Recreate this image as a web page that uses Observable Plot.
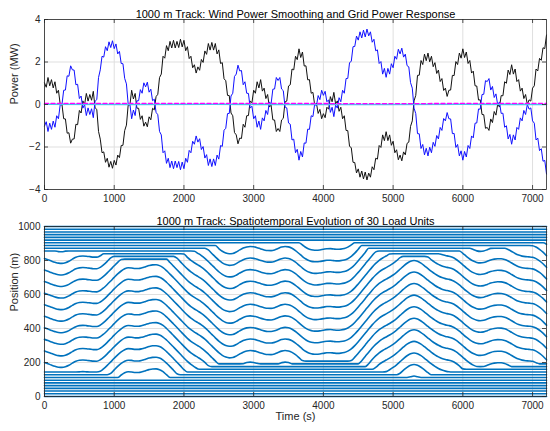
<!DOCTYPE html>
<html><head><meta charset="utf-8">
<script src="https://cdn.jsdelivr.net/npm/d3@7"></script>
<script src="https://cdn.jsdelivr.net/npm/@observablehq/plot@0.6"></script>
<style>
body{margin:0;background:#fff;}
#chart{width:550px;height:431px;overflow:hidden;}
#chart svg{display:block;}
</style></head><body><div id="chart"></div>
<script>
// ---------- Top panel data (MW), sampled every 25 s ----------
const timeFine = [
0,25,50,75,100,125,150,175,200,225,250,275,300,325,350,375,400,425,450,475,500,525,550,575,600,625,650,675,700,725,750,775,800,825,850,875,900,925,950,975,
1000,1025,1050,1075,1100,1125,1150,1175,1200,1225,1250,1275,1300,1325,1350,1375,1400,1425,1450,1475,1500,1525,1550,1575,1600,1625,1650,1675,1700,1725,1750,1775,1800,1825,1850,1875,1900,1925,1950,1975,
2000,2025,2050,2075,2100,2125,2150,2175,2200,2225,2250,2275,2300,2325,2350,2375,2400,2425,2450,2475,2500,2525,2550,2575,2600,2625,2650,2675,2700,2725,2750,2775,2800,2825,2850,2875,2900,2925,2950,2975,
3000,3025,3050,3075,3100,3125,3150,3175,3200,3225,3250,3275,3300,3325,3350,3375,3400,3425,3450,3475,3500,3525,3550,3575,3600,3625,3650,3675,3700,3725,3750,3775,3800,3825,3850,3875,3900,3925,3950,3975,
4000,4025,4050,4075,4100,4125,4150,4175,4200,4225,4250,4275,4300,4325,4350,4375,4400,4425,4450,4475,4500,4525,4550,4575,4600,4625,4650,4675,4700,4725,4750,4775,4800,4825,4850,4875,4900,4925,4950,4975,
5000,5025,5050,5075,5100,5125,5150,5175,5200,5225,5250,5275,5300,5325,5350,5375,5400,5425,5450,5475,5500,5525,5550,5575,5600,5625,5650,5675,5700,5725,5750,5775,5800,5825,5850,5875,5900,5925,5950,5975,
6000,6025,6050,6075,6100,6125,6150,6175,6200,6225,6250,6275,6300,6325,6350,6375,6400,6425,6450,6475,6500,6525,6550,6575,6600,6625,6650,6675,6700,6725,6750,6775,6800,6825,6850,6875,6900,6925,6950,6975,
7000,7025,7050,7075,7100,7125,7150,7175,7200];

const windPower = [
1.02,0.81,1.27,0.88,1.17,0.78,1.07,0.53,0.67,0.01,0.02,-0.67,-0.68,-1.35,-1.33,-1.82,-1.63,-1.62,-0.93,-0.95,-0.28,-0.4,0.17,0.0,0.52,0.16,0.47,0.2,0.62,-0.15,-0.23,-1.27,-1.63,-2.27,-2.23,-2.72,-2.53,-2.95,-2.68,-3.0,
-2.63,-2.85,-2.38,-2.5,-1.93,-1.92,-1.23,-0.97,-0.03,-0.02,0.67,0.26,0.52,-0.17,-0.18,-0.7,-0.53,-1.02,-0.83,-1.05,-0.58,-0.72,-0.18,-0.25,0.37,0.48,1.27,1.43,2.27,2.18,2.77,2.53,2.97,2.66,3.02,2.66,2.97,2.68,3.07,2.71,
3.02,2.53,2.72,2.16,2.27,1.73,1.87,1.48,1.77,1.61,2.12,1.98,2.52,2.36,2.87,2.56,2.92,2.56,2.87,2.38,2.57,1.93,1.97,1.21,1.12,0.43,0.42,-0.4,-0.53,-1.32,-1.43,-1.85,-1.58,-1.6,-0.93,-1.07,-0.53,-0.52,0.17,0.08,
0.67,0.53,1.07,0.78,1.17,0.63,0.77,0.28,0.47,-0.12,-0.03,-0.72,-0.73,-1.27,-1.13,-1.27,-0.73,-0.65,0.12,0.16,0.87,0.93,1.67,1.63,2.27,2.11,2.62,2.21,2.47,1.81,1.82,1.16,1.17,0.53,0.57,-0.02,0.07,-0.42,-0.23,-0.67,
-0.43,-0.62,-0.13,-0.22,0.37,0.13,0.57,0.03,0.17,-0.32,-0.13,-0.67,-0.53,-1.22,-1.23,-1.97,-2.03,-2.72,-2.73,-3.22,-3.03,-3.42,-3.13,-3.5,-3.18,-3.55,-3.23,-3.42,-2.93,-3.07,-2.53,-2.57,-1.93,-2.02,-1.43,-1.7,-1.28,-1.7,-1.43,-1.92,
-1.73,-2.27,-2.13,-2.6,-2.38,-2.65,-2.23,-2.37,-1.83,-1.77,-1.03,-0.77,0.17,0.43,1.37,1.38,2.07,1.88,2.37,2.06,2.42,2.01,2.27,1.78,1.97,1.46,1.62,1.08,1.22,0.66,0.77,0.38,0.67,0.68,1.37,1.36,2.02,1.88,2.42,2.18,
2.62,2.21,2.47,1.93,2.07,1.48,1.57,0.88,0.87,0.21,0.22,-0.47,-0.48,-1.12,-1.08,-1.22,-0.68,-0.85,-0.33,-0.5,0.02,-0.12,0.42,0.41,1.07,1.0,1.62,1.41,1.87,1.43,1.67,1.08,1.17,0.63,0.77,0.28,0.47,0.0,0.22,0.16,
0.77,0.88,1.67,1.58,2.17,2.08,2.67,2.63,3.27];

const storagePower = [
-1.02,-0.81,-1.27,-0.88,-1.17,-0.78,-1.07,-0.53,-0.67,-0.01,-0.02,0.67,0.68,1.35,1.33,1.82,1.63,1.62,0.93,0.95,0.28,0.4,-0.17,0.0,-0.52,-0.16,-0.47,-0.2,-0.62,0.15,0.23,1.27,1.63,2.27,2.23,2.72,2.53,2.95,2.68,3.0,
2.63,2.85,2.38,2.5,1.93,1.92,1.23,0.97,0.03,0.02,-0.67,-0.26,-0.52,0.17,0.18,0.7,0.53,1.02,0.83,1.05,0.58,0.72,0.18,0.25,-0.37,-0.48,-1.27,-1.43,-2.27,-2.18,-2.77,-2.53,-2.97,-2.66,-3.02,-2.66,-2.97,-2.68,-3.07,-2.71,
-3.02,-2.53,-2.72,-2.16,-2.27,-1.73,-1.87,-1.48,-1.77,-1.61,-2.12,-1.98,-2.52,-2.36,-2.87,-2.56,-2.92,-2.56,-2.87,-2.38,-2.57,-1.93,-1.97,-1.21,-1.12,-0.43,-0.42,0.4,0.53,1.32,1.43,1.85,1.58,1.6,0.93,1.07,0.53,0.52,-0.17,-0.08,
-0.67,-0.53,-1.07,-0.78,-1.17,-0.63,-0.77,-0.28,-0.47,0.12,0.03,0.72,0.73,1.27,1.13,1.27,0.73,0.65,-0.12,-0.16,-0.87,-0.93,-1.67,-1.63,-2.27,-2.11,-2.62,-2.21,-2.47,-1.81,-1.82,-1.16,-1.17,-0.53,-0.57,0.02,-0.07,0.42,0.23,0.67,
0.43,0.62,0.13,0.22,-0.37,-0.13,-0.57,-0.03,-0.17,0.32,0.13,0.67,0.53,1.22,1.23,1.97,2.03,2.72,2.73,3.22,3.03,3.42,3.13,3.5,3.18,3.55,3.23,3.42,2.93,3.07,2.53,2.57,1.93,2.02,1.43,1.7,1.28,1.7,1.43,1.92,
1.73,2.27,2.13,2.6,2.38,2.65,2.23,2.37,1.83,1.77,1.03,0.77,-0.17,-0.43,-1.37,-1.38,-2.07,-1.88,-2.37,-2.06,-2.42,-2.01,-2.27,-1.78,-1.97,-1.46,-1.62,-1.08,-1.22,-0.66,-0.77,-0.38,-0.67,-0.68,-1.37,-1.36,-2.02,-1.88,-2.42,-2.18,
-2.62,-2.21,-2.47,-1.93,-2.07,-1.48,-1.57,-0.88,-0.87,-0.21,-0.22,0.47,0.48,1.12,1.08,1.22,0.68,0.85,0.33,0.5,-0.02,0.12,-0.42,-0.41,-1.07,-1.0,-1.62,-1.41,-1.87,-1.43,-1.67,-1.08,-1.17,-0.63,-0.77,-0.28,-0.47,0.0,-0.22,-0.16,
-0.77,-0.88,-1.67,-1.58,-2.17,-2.08,-2.67,-2.63,-3.27];

const gridTime = [0,1200,2400,3600,4800,6000,7200];
const gridPowerRef = [0.05,0.05,0.05,0.05,0.04,0.05,0.05];
const gridPowerOut = [0.01,0.0,0.01,0.0,0.0,0.01,0.0];

// ---------- Bottom panel data (m), sampled every 50 s ----------
const shiftTime = [
0,50,100,150,200,250,300,350,400,450,500,550,600,650,700,750,800,850,900,950,
1000,1050,1100,1150,1200,1250,1300,1350,1400,1450,1500,1550,1600,1650,1700,1750,1800,1850,1900,1950,
2000,2050,2100,2150,2200,2250,2300,2350,2400,2450,2500,2550,2600,2650,2700,2750,2800,2850,2900,2950,
3000,3050,3100,3150,3200,3250,3300,3350,3400,3450,3500,3550,3600,3650,3700,3750,3800,3850,3900,3950,
4000,4050,4100,4150,4200,4250,4300,4350,4400,4450,4500,4550,4600,4650,4700,4750,4800,4850,4900,4950,
5000,5050,5100,5150,5200,5250,5300,5350,5400,5450,5500,5550,5600,5650,5700,5750,5800,5850,5900,5950,
6000,6050,6100,6150,6200,6250,6300,6350,6400,6450,6500,6550,6600,6650,6700,6750,6800,6850,6900,6950,
7000,7050,7100,7150,7200];

// common displacement of the moving group of load units (m)
const trackShift = [
0,-7.3,-15.2,-22.3,-27.6,-28.9,-25.1,-16.3,-3.9,6.9,12.8,14.4,13.1,10.7,7.9,7.7,15.9,31.7,50.8,71.6,
92.8,112.9,130.3,143.4,149.4,148.3,145.1,145.1,149.1,155.4,162.0,166.1,166.7,161.8,149.8,132.2,111.9,90.8,69.6,48.2,
26.6,6.4,-11.1,-25.3,-37.7,-51.0,-67.1,-86.1,-106.5,-126.9,-146.1,-161.8,-172.1,-176.6,-174.9,-166.3,-153.8,-143.1,-136.3,-133.7,
-135.6,-140.8,-147.9,-153.9,-157.3,-157.7,-153.6,-145.3,-137.1,-133.5,-135.9,-144.2,-157.7,-174.8,-192.6,-207.4,-217.3,-222.6,-223.7,-221.8,
-218.1,-214.7,-214.3,-216.6,-218.1,-216.9,-213.2,-205.3,-191.8,-172.7,-149.8,-125.4,-100.5,-75.2,-50.8,-29.1,-11.1,2.8,14.3,25.7,
38.8,54.6,72.8,91.3,107.8,119.8,124.3,119.8,108.2,92.8,76.1,59.8,45.2,33.0,23.6,17.4,13.3,6.9,-4.5,-19.9,
-37.5,-55.3,-71.1,-83.4,-91.3,-94.1,-91.9,-84.8,-76.9,-71.8,-69.4,-69.8,-74.1,-82.9,-94.7,-106.7,-116.1,-122.1,-125.4,-126.8,
-129.2,-137.1,-150.2,-167.1,-188.1];

// per-unit position in the moving group at t = 0 (m), 30 units
const unitBase = [-480,-412,-344,-276,-208,-140,-72,-4,64,132,200,268,336,404,472,540,608,676,744,812,880,948,1016,1084,1152,1220,1288,1356,1424,1492];
// parking slot at the bottom end and at the top end of the track (m)
const parkLow = [0,16,32,48,64,80,96,112,128,144,160,176,192,208,224,240,256,272,288,304,320,336,352,368,384,400,416,432,448,464];
const parkHigh = [536,552,568,584,600,616,632,648,664,680,696,712,728,744,760,776,792,808,824,840,856,872,888,904,920,936,952,968,984,1000];

const timeTicks = [0,1000,2000,3000,4000,5000,6000,7000];
const powerTicks = [-4,-2,0,2,4];
const positionTicks = [0,200,400,600,800,1000];

const topTitle = "1000 m Track: Wind Power Smoothing and Grid Power Response";
const bottomTitle = "1000 m Track: Spatiotemporal Evolution of 30 Load Units";

// ---------- build ----------
const unitTracks = [];
unitBase.forEach((base, u) => {
  shiftTime.forEach((t, j) => {
    unitTracks.push({unit: u, t, pos: Math.min(parkHigh[u], Math.max(parkLow[u], base + trackShift[j]))});
  });
});

const font = "'Liberation Sans', Arial, Helvetica, sans-serif";
const axisColor = "#262626";
const gridColor = "#dfdfdf";
const frameW = 502, frameH = 170, tickLen = 4;

function boxTicks(xt, yt) {
  return [
    Plot.tickX(xt, {x: d => d, insetTop: frameH - tickLen, stroke: axisColor, strokeWidth: 0.8}),
    Plot.tickX(xt, {x: d => d, insetBottom: frameH - tickLen, stroke: axisColor, strokeWidth: 0.8}),
    Plot.tickY(yt, {y: d => d, insetRight: frameW - tickLen, stroke: axisColor, strokeWidth: 0.8}),
    Plot.tickY(yt, {y: d => d, insetLeft: frameW - tickLen, stroke: axisColor, strokeWidth: 0.8})
  ];
}

const common = {
  width: 550, marginLeft: 44, marginRight: 4, marginTop: 19,
  style: {fontFamily: font, fontSize: "10px", color: axisColor, background: "white", overflow: "visible"}
};

const topPlot = Plot.plot({
  ...common, height: 207, marginBottom: 18,
  x: {domain: [0, 7200], label: null},
  y: {domain: [-4, 4], label: null},
  marks: [
    Plot.gridX({ticks: timeTicks, stroke: gridColor, strokeOpacity: 1}),
    Plot.gridY({ticks: powerTicks, stroke: gridColor, strokeOpacity: 1}),
    Plot.lineY(windPower, {x: timeFine, stroke: "#111111", strokeWidth: 1}),
    Plot.lineY(storagePower, {x: timeFine, stroke: "#1010ff", strokeWidth: 1}),
    Plot.lineY(gridPowerOut, {x: gridTime, stroke: "#4DBEEE", strokeWidth: 1.6}),
    Plot.lineY(gridPowerRef, {x: gridTime, stroke: "#ff00ff", strokeWidth: 1.3, strokeDasharray: "4,2.5"}),
    Plot.frame({stroke: axisColor, strokeWidth: 0.8}),
    ...boxTicks(timeTicks, powerTicks),
    Plot.axisX({ticks: timeTicks, tickSize: 0, tickPadding: 5, tickFormat: "d", label: null, fontSize: 10}),
    Plot.axisY({ticks: powerTicks, tickSize: 0, tickPadding: 4, tickFormat: "d", label: null, fontSize: 10}),
    Plot.text([topTitle], {text: d => d, frameAnchor: "top", dy: -9, fontSize: 11, fill: "#000"}),
    Plot.text(["Power (MW)"], {text: d => d, frameAnchor: "left", dx: -30, rotate: -90, fontSize: 11, fill: axisColor})
  ]
});

const bottomPlot = Plot.plot({
  ...common, height: 224, marginBottom: 35,
  x: {domain: [0, 7200], label: null},
  y: {domain: [0, 1000], label: null},
  marks: [
    Plot.gridX({ticks: timeTicks, stroke: gridColor, strokeOpacity: 1}),
    Plot.gridY({ticks: positionTicks, stroke: gridColor, strokeOpacity: 1}),
    Plot.line(unitTracks, {x: "t", y: "pos", z: "unit", stroke: "#0072BD", strokeWidth: 1.6, curve: "monotone-x"}),
    Plot.frame({stroke: axisColor, strokeWidth: 0.8}),
    ...boxTicks(timeTicks, positionTicks),
    Plot.axisX({ticks: timeTicks, tickSize: 0, tickPadding: 5, tickFormat: "d", label: null, fontSize: 10}),
    Plot.axisY({ticks: positionTicks, tickSize: 0, tickPadding: 4, tickFormat: "d", label: null, fontSize: 10}),
    Plot.text([bottomTitle], {text: d => d, frameAnchor: "top", dy: -9, fontSize: 11, fill: "#000"}),
    Plot.text(["Position (m)"], {text: d => d, frameAnchor: "left", dx: -30, rotate: -90, fontSize: 11, fill: axisColor}),
    Plot.text(["Time (s)"], {text: d => d, frameAnchor: "bottom", dy: 23, fontSize: 11, fill: axisColor})
  ]
});

const chart = document.getElementById("chart");
chart.appendChild(topPlot);
chart.appendChild(bottomPlot);
</script>
</body></html>
